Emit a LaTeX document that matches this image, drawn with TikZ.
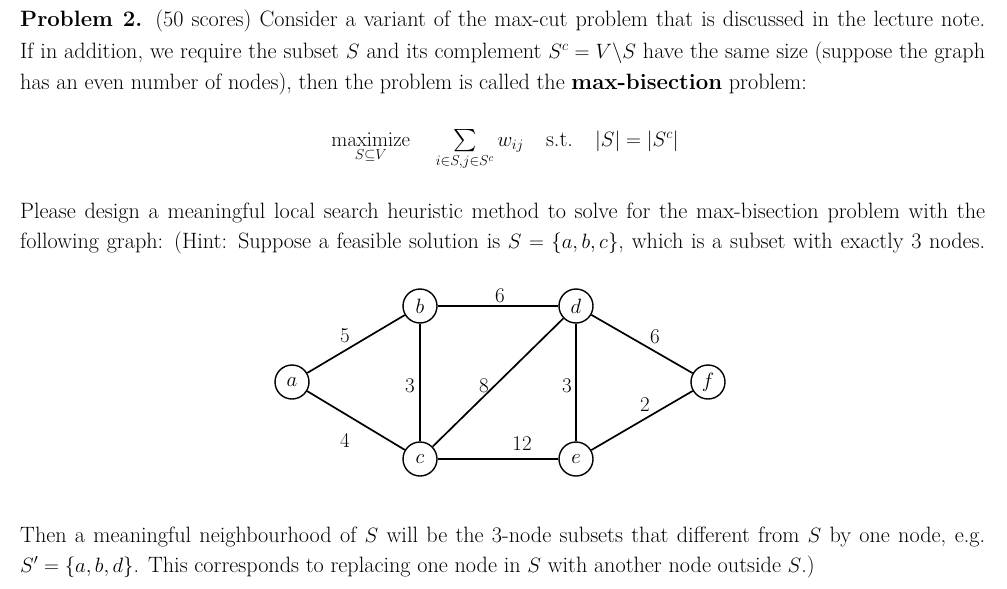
\documentclass[tikz,border=0pt]{standalone}
\usepackage{amsmath,amssymb}
\begin{document}
\begin{tikzpicture}[x=1pt,y=-1pt,
  txt/.style={anchor=base west,inner sep=0pt,font=\fontsize{22.2}{30}\selectfont},
  vtx/.style={circle,draw,line width=1.4pt,minimum size=34pt,inner sep=0pt,font=\fontsize{21}{24}\selectfont},
  edge/.style={line width=1.7pt},
  wl/.style={inner sep=0pt,font=\fontsize{21}{24}\selectfont}]
\useasboundingbox (0,0) rectangle (1007,589);
\node[txt] (l1) at (20,27) {\makebox[965pt][s]{\textbf{Problem 2.} (50 scores) Consider a variant of the max-cut problem that is discussed in the lecture note.}};
\node[txt] (l2) at (20,58) {\makebox[965pt][s]{If in addition, we require the subset $S$ and its complement $S^c=V\backslash S$ have the same size (suppose the graph}};
\node[txt] (l3) at (20,89) {has an even number of nodes), then the problem is called the \textbf{max-bisection} problem:};
\node[txt,anchor=base] (f) at (505,146) {$\displaystyle \operatorname*{maximize}_{S\subseteq V}\quad \textstyle\sum\limits_{i\in S,j\in S^c} w_{ij}\quad \text{s.t.}\quad |S|=|S^c|$};
\node[txt] (l4) at (20,218) {\makebox[965pt][s]{Please design a meaningful local search heuristic method to solve for the max-bisection problem with the}};
\node[txt] (l5) at (20,248) {\makebox[965pt][s]{following graph: (Hint: Suppose a feasible solution is $S=\{a,b,c\}$, which is a subset with exactly 3 nodes.}};
\node[txt] (l6) at (20,542) {\makebox[965pt][s]{Then a meaningful neighbourhood of $S$ will be the 3-node subsets that different from $S$ by one node, e.g.}};
\node[txt] (l7) at (20,572) {$S'=\{a,b,d\}$. This corresponds to replacing one node in $S$ with another node outside $S$.)};
\node[vtx] (a) at (292,382) {$a$};
\node[vtx] (b) at (420,306) {$b$};
\node[vtx] (c) at (420,459) {$c$};
\node[vtx] (d) at (576,306) {$d$};
\node[vtx] (e) at (576,459) {$e$};
\node[vtx] (ff) at (708,382) {$f$};
\draw[edge] (a)--(b); \draw[edge] (a)--(c); \draw[edge] (b)--(c);
\draw[edge] (b)--(d); \draw[edge] (c)--(d); \draw[edge] (c)--(e);
\draw[edge] (d)--(e); \draw[edge] (d)--(ff); \draw[edge] (e)--(ff);
\node[wl] (w1) at (345,336) {5};
\node[wl] (w2) at (500,296) {6};
\node[wl] (w3) at (410,386) {3};
\node[wl] (w4) at (484,386) {8};
\node[wl] (w5) at (567,386) {3};
\node[wl] (w6) at (655,337) {6};
\node[wl] (w7) at (645,405) {2};
\node[wl] (w8) at (345,440) {4};
\node[wl] (w9) at (522,444) {12};
\end{tikzpicture}
\end{document}
